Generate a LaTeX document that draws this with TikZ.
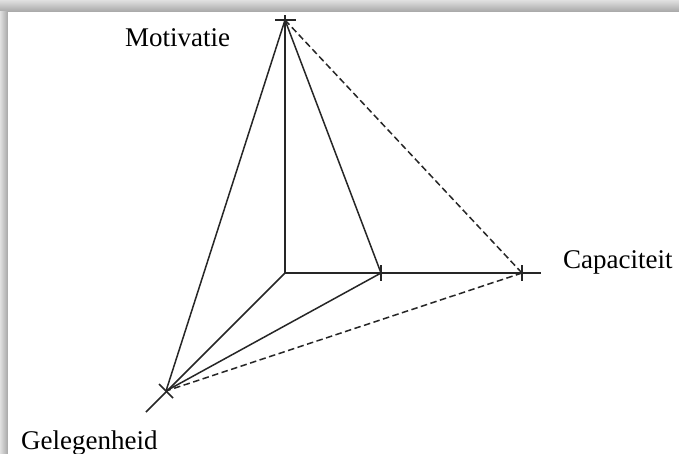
\documentclass[tikz,border=0pt]{standalone}
\usepackage{fontspec}
\setmainfont{Liberation Serif}
\usetikzlibrary{calc}
\begin{document}
\begin{tikzpicture}[x=1pt,y=-1pt,
  axis/.style={line width=1.5pt,draw=black!85},
  edge/.style={line width=1.5pt,draw=black!85},
  dashedge/.style={line width=1.5pt,draw=black!85,dash pattern=on 6.5pt off 3.5pt},
  tick/.style={line width=1.5pt,draw=black!85},
  lbl/.style={font=\fontsize{27}{27}\selectfont,inner sep=0pt,anchor=base west,text=black}]
\useasboundingbox (0,0) rectangle (679,454);
% frame
\shade[top color=black!12,bottom color=black!35] (0,0) rectangle (679,12);
\shade[left color=black!12,right color=black!35] (0,12) rectangle (8,454);
\fill[white] (8,12) rectangle (679,454);
% points
\coordinate (O) at (285,273);
\coordinate (M) at (285,20);
\coordinate (Mtop) at (285,15);
\coordinate (C1) at (381,273);
\coordinate (C2) at (522,273);
\coordinate (Cend) at (541,273);
\coordinate (G) at (166,391);
\coordinate (Gend) at (146,412);
% axes
\draw[axis] (O) -- (Mtop);
\draw[axis] (O) -- (Cend);
\draw[axis] (O) -- (Gend);
% ticks
\draw[tick] ($(M)+(-10,0)$) -- ($(M)+(11,0)$);
\draw[tick] ($(C1)+(0,-8)$) -- ($(C1)+(0,8)$);
\draw[tick] ($(C2)+(0,-8)$) -- ($(C2)+(0,8)$);
\draw[tick] ($(G)+(-7,-7)$) -- ($(G)+(7,7)$);
% solid pyramid
\draw[edge] (M) -- (G);
\draw[edge] (M) -- (C1);
\draw[edge] (C1) -- (G);
% dashed pyramid
\draw[dashedge] (M) -- (C2);
\draw[dashedge] (C2) -- (G);
% labels
\node[lbl] (lm) at (125,47) {Motivatie};
\node[lbl] (lc) at (563,268) {Capaciteit};
\node[lbl] (lg) at (21,449) {Gelegenheid};
\end{tikzpicture}
\end{document}
